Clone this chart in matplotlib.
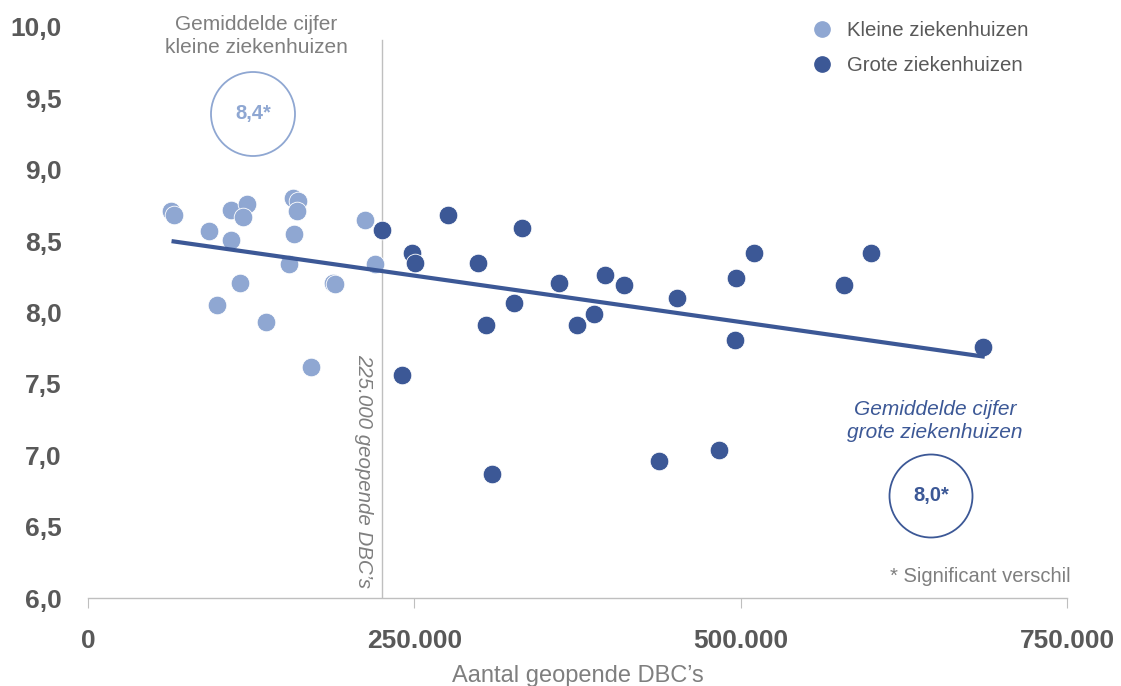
import matplotlib
matplotlib.use("Agg")
import matplotlib.pyplot as plt
from matplotlib.patches import Ellipse
from matplotlib.lines import Line2D

plt.rcParams['font.family'] = ['Liberation Sans', 'DejaVu Sans']

# Data
small_x = [63600, 65900, 92700, 109600, 122000, 118500, 109600, 156800, 161100,
           159900, 157800, 154200, 212200, 220100, 116400, 188000, 189500, 98800,
           136400, 170800]
small_y = [8.71, 8.68, 8.57, 8.72, 8.76, 8.67, 8.51, 8.80, 8.78,
           8.71, 8.55, 8.34, 8.65, 8.34, 8.21, 8.21, 8.20, 8.05,
           7.93, 7.62]
large_x = [225000, 276000, 248500, 250500, 332200, 298500, 360800, 396000,
           410900, 326100, 304700, 387400, 374400, 451000, 496700, 510400,
           495700, 579400, 599800, 240800, 309700, 437700, 483400, 685600]
large_y = [8.58, 8.68, 8.42, 8.35, 8.59, 8.35, 8.21, 8.26,
           8.19, 8.07, 7.91, 7.99, 7.91, 8.10, 8.24, 8.42,
           7.81, 8.19, 8.42, 7.56, 6.87, 6.96, 7.04, 7.76]
trend_x = [64000, 687000]
trend_y = [8.50, 7.69]
threshold_x = 225000
x_ticks = [0, 250000, 500000, 750000]
x_ticklabels = ['0', '250.000', '500.000', '750.000']
y_ticks = [6.0, 6.5, 7.0, 7.5, 8.0, 8.5, 9.0, 9.5, 10.0]
y_ticklabels = ['6,0', '6,5', '7,0', '7,5', '8,0', '8,5', '9,0', '9,5', '10,0']

LIGHT = '#8FA7D2'
DARK = '#3C5896'
TICK_GRAY = '#595959'
TEXT_GRAY = '#7F7F7F'
AXIS_GRAY = '#BFBFBF'

fig = plt.figure(figsize=(11.21, 6.86), dpi=100)
ax = fig.add_axes([88/1121, 1-598/686, 979/1121, 571/686])
ax.set_xlim(0, 750000)
ax.set_ylim(6, 10)

ax.plot([threshold_x, threshold_x], [6, 9.91], color=AXIS_GRAY, lw=1, zorder=1)
ax.scatter(small_x, small_y, s=180, color=LIGHT, edgecolors='white', linewidths=0.6, zorder=3)
ax.scatter(large_x, large_y, s=180, color=DARK, edgecolors='white', linewidths=0.6, zorder=3)
ax.plot(trend_x, trend_y, color=DARK, lw=3, solid_capstyle='butt', zorder=4)

for s in ['left', 'right', 'top']:
    ax.spines[s].set_visible(False)
ax.spines['bottom'].set_color(AXIS_GRAY)
ax.spines['bottom'].set_linewidth(1)

ax.set_xticks(x_ticks)
ax.set_xticklabels(x_ticklabels, fontsize=19, fontweight='bold', color=TICK_GRAY)
ax.set_yticks(y_ticks)
ax.set_yticklabels(y_ticklabels, fontsize=19, fontweight='bold', color=TICK_GRAY)
ax.tick_params(axis='x', length=7, color=AXIS_GRAY, pad=15)
ax.tick_params(axis='y', length=0, pad=19)
ax.set_xlabel('Aantal geopende DBC’s', fontsize=17, color=TEXT_GRAY, labelpad=9)

# rotated threshold label
ax.text(threshold_x - 14000, 7.71, '225.000 geopende DBC’s', rotation=-90,
        ha='center', va='top', fontsize=14.8, color=TEXT_GRAY, style='italic')

# small hospitals annotation
fig.text(256/1121, 1-36/686, 'Gemiddelde cijfer\nkleine ziekenhuizen', ha='center', va='center',
         fontsize=15, color=TEXT_GRAY, linespacing=1.3)
fig.patches.append(Ellipse((253/1121, 1-114/686), 84/1121, 84/686, transform=fig.transFigure,
                           fill=False, edgecolor=LIGHT, lw=1.3))
fig.text(253/1121, 1-114/686, '8,4*', ha='center', va='center', fontsize=14.5,
         fontweight='bold', color=LIGHT)

# large hospitals annotation
fig.text(935/1121, 1-421/686, 'Gemiddelde cijfer\ngrote ziekenhuizen', ha='center', va='center',
         fontsize=15, color=DARK, style='italic', linespacing=1.3)
fig.patches.append(Ellipse((931/1121, 1-496/686), 83/1121, 83/686, transform=fig.transFigure,
                           fill=False, edgecolor=DARK, lw=1.3))
fig.text(931/1121, 1-496/686, '8,0*', ha='center', va='center', fontsize=14.5,
         fontweight='bold', color=DARK)

fig.text(1071/1121, 1-577/686, '* Significant verschil', ha='right', va='center',
         fontsize=14.5, color=TEXT_GRAY)

handles = [Line2D([], [], marker='o', ls='', color=LIGHT, markersize=11, label='Kleine ziekenhuizen'),
           Line2D([], [], marker='o', ls='', color=DARK, markersize=11, label='Grote ziekenhuizen')]
leg = fig.legend(handles=handles, loc='upper left', bbox_to_anchor=(783/1121, 1-3/686),
                 frameon=False, fontsize=14.7, handletextpad=0.25, labelspacing=0.78)
for t in leg.get_texts():
    t.set_color(TICK_GRAY)

fig.savefig('out.png', dpi=100)
